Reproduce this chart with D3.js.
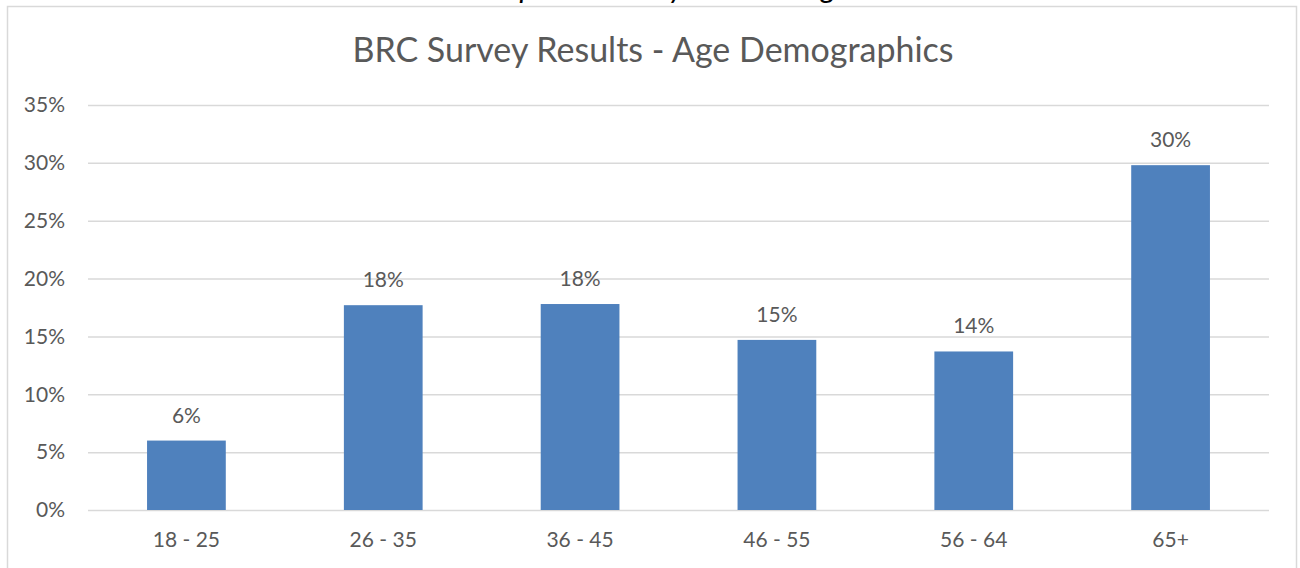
<!DOCTYPE html>
<html>
<head>
<meta charset="utf-8">
<script src="https://cdn.jsdelivr.net/npm/d3@7"></script>
<style>
  body { margin: 0; background: #fff; }
  text { font-family: Lato, "Open Sans", sans-serif; fill: #595959; }
</style>
</head>
<body>
<div id="chart"></div>
<script>
var categories = ["18 - 25", "26 - 35", "36 - 45", "46 - 55", "56 - 64", "65+"];
var shares = [0.060, 0.177, 0.178, 0.147, 0.137, 0.298];
var yTicks = [0, 0.05, 0.10, 0.15, 0.20, 0.25, 0.30, 0.35];

var svgWidth = 1300;
var svgHeight = 568;
var margin = { top: 105, right: 31, bottom: 58, left: 88 };
var width = svgWidth - margin.left - margin.right;
var height = svgHeight - margin.top - margin.bottom;

var svg = d3.select("#chart")
    .append("svg")
    .attr("width", svgWidth)
    .attr("height", svgHeight);

// caption above the chart frame, cut off by the page top like in the source
svg.append("text")
    .attr("x", 662)
    .attr("y", -2)
    .attr("text-anchor", "middle")
    .style("font-style", "italic")
    .style("font-size", "30px")
    .style("fill", "#000")
    .text("Graph 2 - Survey Results - Age");

// chart frame
svg.append("rect")
    .attr("x", 7.5)
    .attr("y", 6.5)
    .attr("width", 1289)
    .attr("height", 570)
    .attr("fill", "none")
    .attr("stroke", "#d9d9d9")
    .attr("stroke-width", 1.5);

svg.append("text")
    .attr("x", 653)
    .attr("y", 62)
    .attr("text-anchor", "middle")
    .style("font-size", "34px")
    .text("BRC Survey Results - Age Demographics");

var chartGroup = svg.append("g")
    .attr("transform", `translate(${margin.left}, ${margin.top})`);

var xScale = d3.scaleBand()
    .domain(categories)
    .range([0, width])
    .paddingInner(0.6)
    .paddingOuter(0.3);

var yScale = d3.scaleLinear()
    .domain([0, 0.35])
    .range([height, 0]);

// gridlines + y labels
var yAxis = d3.axisLeft(yScale)
    .tickValues(yTicks)
    .tickSize(-width)
    .tickFormat(d3.format(".0%"));

var yAxisGroup = chartGroup.append("g").call(yAxis);
yAxisGroup.select(".domain").remove();
yAxisGroup.selectAll("line")
    .attr("stroke", "#d9d9d9")
    .attr("stroke-width", 1.5);
yAxisGroup.selectAll("text")
    .attr("x", -23)
    .style("font-size", "21px")
    .style("font-family", "Lato, sans-serif")
    .attr("fill", "#595959");

var xAxis = d3.axisBottom(xScale).tickSize(0);
var xAxisGroup = chartGroup.append("g")
    .attr("transform", `translate(0, ${height})`)
    .call(xAxis);
xAxisGroup.select(".domain").remove();
xAxisGroup.selectAll("text")
    .attr("y", 22)
    .style("font-size", "21px")
    .style("font-family", "Lato, sans-serif")
    .attr("fill", "#595959");

// bars
chartGroup.selectAll(".bar")
    .data(shares)
    .join("rect")
    .attr("class", "bar")
    .attr("x", (d, i) => xScale(categories[i]))
    .attr("y", d => yScale(d))
    .attr("width", xScale.bandwidth())
    .attr("height", d => height - yScale(d))
    .attr("fill", "#4f81bd");

// data labels
chartGroup.selectAll(".barLabel")
    .data(shares)
    .join("text")
    .attr("class", "barLabel")
    .attr("x", (d, i) => xScale(categories[i]) + xScale.bandwidth() / 2)
    .attr("y", d => yScale(d) - 18)
    .attr("text-anchor", "middle")
    .style("font-size", "21px")
    .text(d => d3.format(".0%")(d));
</script>
</body>
</html>
